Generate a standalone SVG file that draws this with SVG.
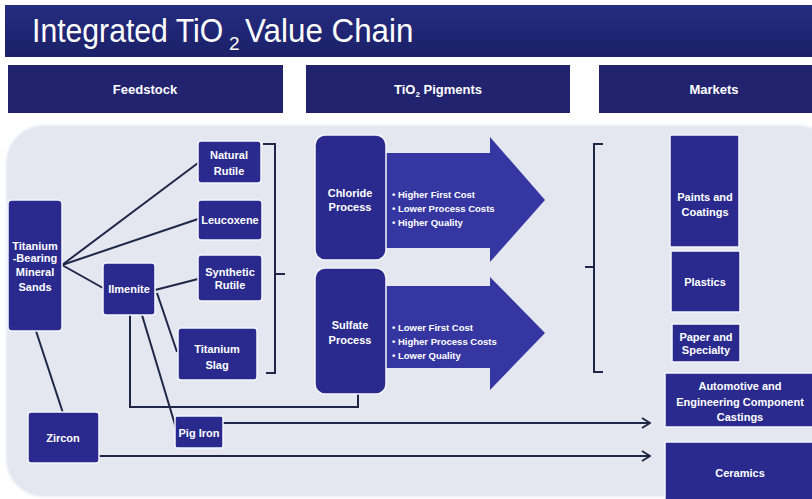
<svg xmlns="http://www.w3.org/2000/svg" width="812" height="499" viewBox="0 0 812 499">
<defs>
<style>
.node{fill:#2a2a8e;stroke:#f4f5fb;stroke-width:1.5}
.hdr{fill:#22236f}
.t{fill:#ffffff;font-family:"Liberation Sans",Arial,sans-serif;font-weight:bold;font-size:11px;text-anchor:middle}
.b{fill:#ffffff;font-family:"Liberation Sans",Arial,sans-serif;font-weight:bold;font-size:9.5px}
.h{fill:#ffffff;font-family:"Liberation Sans",Arial,sans-serif;font-weight:bold;font-size:13px;text-anchor:middle}
.ttl{fill:#ffffff;font-family:"Liberation Sans",Arial,sans-serif;font-size:33px}
.ln{fill:none;stroke:#1f2748;stroke-width:2}
.arr{fill:#3636a2}
</style>
<linearGradient id="tg" x1="0" y1="0" x2="0" y2="1">
<stop offset="0" stop-color="#262c80"/>
<stop offset="1" stop-color="#1b2068"/>
</linearGradient>
<marker id="ah" viewBox="0 0 10 12" refX="9" refY="6" markerWidth="10" markerHeight="12" markerUnits="userSpaceOnUse" orient="auto">
<path d="M1,1 L9,6 L1,11" fill="none" stroke="#1f2748" stroke-width="2"/>
</marker>
</defs>
<rect width="812" height="499" fill="#ffffff"/>
<g id="title">
<rect x="5" y="5" width="807" height="52" fill="url(#tg)"/>
<text class="ttl" x="0" y="0" transform="translate(32,42) scale(0.915,1)">Integrated TiO</text>
<text class="ttl" x="229" y="50" style="font-size:19px">2</text>
<text class="ttl" x="0" y="0" transform="translate(245,42) scale(0.95,1)">Value Chain</text>
</g>
<g id="headers">
<rect class="hdr" x="8" y="65" width="275" height="48"/>
<text class="h" x="145" y="94">Feedstock</text>
<rect class="hdr" x="306" y="65" width="264" height="48"/>
<text class="h" x="438" y="94">TiO<tspan font-size="8" dy="3">2</tspan><tspan dy="-3"> Pigments</tspan></text>
<rect class="hdr" x="599" y="65" width="213" height="48"/>
<text class="h" x="714" y="94">Markets</text>
</g>
<rect id="panel" x="6" y="125" width="830" height="372" rx="38" fill="#e4e6f0" stroke="#f4f5fa" stroke-width="2"/>
<g id="arrows">
<polygon class="arr" points="386,153 490,153 490,137 545,200 490,262 490,248 386,248"/>
<polygon class="arr" points="386,286 490,286 490,277 545,333 490,390 490,368 386,368"/>
</g>
<g id="connectors">
<line class="ln" x1="62" y1="265" x2="198" y2="163"/>
<line class="ln" x1="62" y1="265" x2="198" y2="219"/>
<line class="ln" x1="62" y1="265" x2="103" y2="288"/>
<line class="ln" x1="36" y1="331" x2="63" y2="413"/>
<line class="ln" x1="155" y1="290" x2="198" y2="279"/>
<line class="ln" x1="157" y1="293" x2="177" y2="352"/>
<line class="ln" x1="142" y1="315" x2="176" y2="428"/>
<polyline class="ln" points="130,315 130,407 358,407 358,394"/>
<path class="ln" d="M263,144 H275 V373 H266 M275,274 H285"/>
<path class="ln" d="M603,144 H594 V372 H603 M585,267 H594"/>
<line class="ln" x1="223" y1="423" x2="650" y2="423" marker-end="url(#ah)"/>
<line class="ln" x1="99" y1="456" x2="650" y2="456" marker-end="url(#ah)"/>
</g>
<g id="n-sands">
<rect class="node" x="8" y="200" width="54" height="131" rx="4"/>
<text class="t" x="35" y="250">Titanium</text>
<text class="t" x="35" y="262">-Bearing</text>
<text class="t" x="35" y="276">Mineral</text>
<text class="t" x="35" y="291">Sands</text>
</g>
<g id="n-natural-rutile">
<rect class="node" x="198" y="141" width="63" height="42" rx="3"/>
<text class="t" x="229" y="159">Natural</text>
<text class="t" x="229" y="175">Rutile</text>
</g>
<g id="n-leucoxene">
<rect class="node" x="198" y="200" width="64" height="40" rx="3"/>
<text class="t" x="230" y="224">Leucoxene</text>
</g>
<g id="n-synthetic-rutile">
<rect class="node" x="198" y="255" width="64" height="46" rx="3"/>
<text class="t" x="230" y="276">Synthetic</text>
<text class="t" x="230" y="289">Rutile</text>
</g>
<g id="n-ilmenite">
<rect class="node" x="103" y="263" width="52" height="52" rx="3"/>
<text class="t" x="129" y="293">Ilmenite</text>
</g>
<g id="n-titanium-slag">
<rect class="node" x="178" y="328" width="79" height="52" rx="3"/>
<text class="t" x="217" y="353">Titanium</text>
<text class="t" x="217" y="369">Slag</text>
</g>
<g id="n-zircon">
<rect class="node" x="28" y="412" width="71" height="51" rx="3"/>
<text class="t" x="63" y="442">Zircon</text>
</g>
<g id="n-pig-iron">
<rect class="node" x="175" y="416" width="48" height="32" rx="2"/>
<text class="t" x="199" y="437">Pig Iron</text>
</g>
<g id="n-chloride">
<rect class="node" x="315" y="135" width="71" height="125" rx="10"/>
<text class="t" x="350" y="197">Chloride</text>
<text class="t" x="350" y="211">Process</text>
<text class="b" x="392" y="198">• Higher First Cost</text>
<text class="b" x="392" y="212">• Lower Process Costs</text>
<text class="b" x="392" y="226">• Higher Quality</text>
</g>
<g id="n-sulfate">
<rect class="node" x="315" y="268" width="71" height="126" rx="10"/>
<text class="t" x="350" y="329">Sulfate</text>
<text class="t" x="350" y="344">Process</text>
<text class="b" x="392" y="331">• Lower First Cost</text>
<text class="b" x="392" y="345">• Higher Process Costs</text>
<text class="b" x="392" y="359">• Lower Quality</text>
</g>
<g id="n-paints">
<rect class="node" x="670" y="135" width="69" height="112"/>
<text class="t" x="705" y="201">Paints and</text>
<text class="t" x="705" y="216">Coatings</text>
</g>
<g id="n-plastics">
<rect class="node" x="671" y="251" width="69" height="61"/>
<text class="t" x="705" y="286">Plastics</text>
</g>
<g id="n-paper">
<rect class="node" x="672" y="324" width="68" height="38"/>
<text class="t" x="706" y="341">Paper and</text>
<text class="t" x="706" y="354">Specialty</text>
</g>
<g id="n-automotive">
<rect class="node" x="665" y="373" width="150" height="54"/>
<text class="t" x="740" y="390">Automotive and</text>
<text class="t" x="740" y="406">Engineering Component</text>
<text class="t" x="740" y="421">Castings</text>
</g>
<g id="n-ceramics">
<rect class="node" x="665" y="442" width="150" height="60"/>
<text class="t" x="740" y="477">Ceramics</text>
</g>
</svg>
